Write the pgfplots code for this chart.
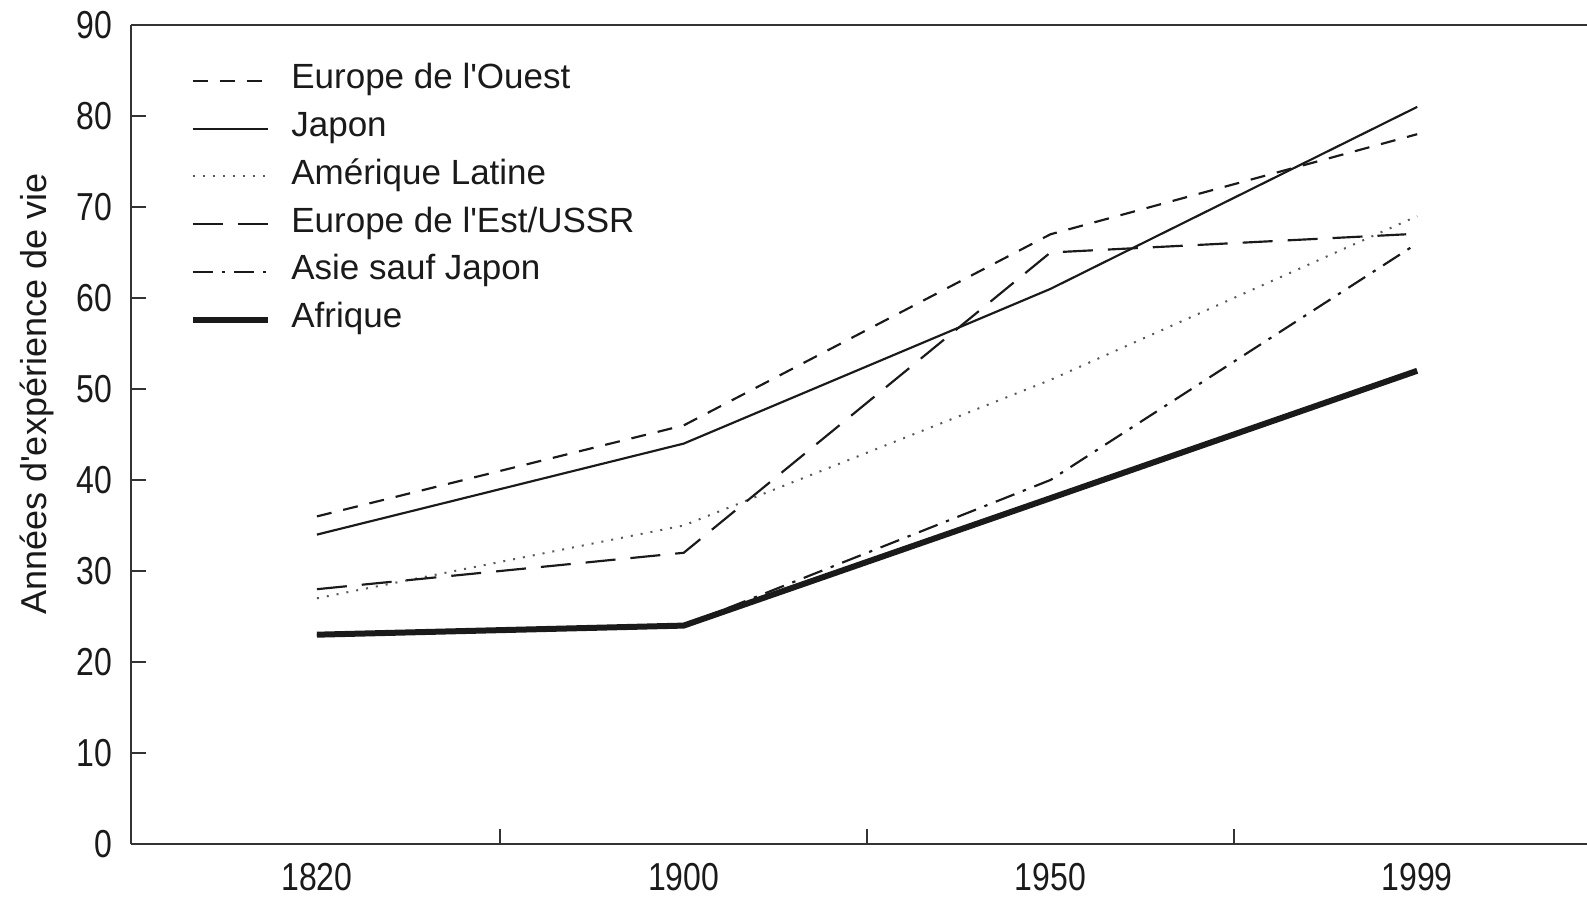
\documentclass[border=0pt]{standalone}
\usepackage{fontspec}
\setmainfont{Liberation Sans}
\newfontfamily\numfont{Liberation Sans}[FakeStretch=0.82]
\usepackage{pgfplots}
\pgfplotsset{compat=1.18}
\definecolor{ink}{HTML}{1A1A1A}
\definecolor{axisc}{HTML}{333333}
\begin{document}
\begin{tikzpicture}
\begin{axis}[
  scale only axis,
  width=436.8pt, height=245.7pt,
  xmin=-0.507, xmax=3.463,
  ymin=0, ymax=90,
  clip=false,
  axis x line*=bottom, axis y line*=left,
  axis line style={-, axisc, line width=0.65pt},
  tick align=inside,
  xtick={0,1,2,3},
  xticklabels={1820,1900,1950,1999},
  major x tick style={draw=none},
  minor xtick={0.5,1.5,2.5},
  minor x tick style={axisc, line width=0.6pt},
  minor tick length=4.5pt,
  ytick={0,10,...,90},
  major tick length=4.5pt,
  y tick style={axisc, line width=0.6pt},
  /pgf/number format/assume math mode=true,
  xticklabel style={font=\numfont\fontsize{11.7}{12}\selectfont, text=ink, anchor=north, inner sep=0pt, yshift=-5.7pt},
  yticklabel style={font=\numfont\fontsize{11.7}{12}\selectfont, text=ink, anchor=east, inner sep=0pt, xshift=-5.4pt},
  ylabel={Années d\textquotesingle expérience de vie},
  ylabel style={font=\fontsize{10.8}{12}\selectfont, text=ink, at={([xshift=-25.2pt]rel axis cs:0,0.549)}, anchor=base},
  legend cell align=left,
  legend image code/.code={\draw[#1] (0pt,0pt) -- (22.5pt,0pt);},
  legend style={draw=none, fill=none, at={(rel axis cs:0,1)}, anchor=north west,
    xshift=17.6pt, yshift=-11.1pt, inner sep=0pt, outer sep=0pt,
    row sep=3pt,
    nodes={inner sep=0pt, text height=8pt, text depth=3.34pt, text=ink, font=\fontsize{10.5}{12}\selectfont},
    /tikz/every odd column/.append style={column sep=6.2pt}},
]
\addplot[ink, line width=0.65pt, dash pattern=on 4.5pt off 3.6pt] coordinates {(0,36) (1,46) (2,67) (3,78)};
\addlegendentry{Europe de l\textquotesingle Ouest}
\addplot[ink, line width=0.65pt] coordinates {(0,34) (1,44) (2,61) (3,81)};
\addlegendentry{Japon}
\addplot[black!65, line width=0.6pt, dash pattern=on 0.6pt off 2.4pt] coordinates {(0,27) (1,35) (2,51) (3,69)};
\addlegendentry{Amérique Latine}
\addplot[ink, line width=0.65pt, dash pattern=on 9pt off 4.5pt] coordinates {(0,28) (1,32) (2,65) (2.97,67)};
\addlegendentry{Europe de l\textquotesingle Est/USSR}
\addplot[ink, line width=0.65pt, dash pattern=on 6pt off 2.7pt on 1pt off 2.7pt] coordinates {(0,23) (1,24) (2,40) (3,66)};
\addlegendentry{Asie sauf Japon}
\addplot[ink, line width=1.8pt] coordinates {(0,23) (1,24) (2,38) (3,52)};
\addlegendentry{Afrique}
\draw[axisc, line width=0.65pt] (rel axis cs:0,1) -- (rel axis cs:1,1);
\coordinate (bbsw) at (rel axis cs:0,0);
\coordinate (bbne) at (rel axis cs:1,1);
\end{axis}
\pgfresetboundingbox
\path ([xshift=-39.3pt,yshift=-16.2pt]bbsw) rectangle ([yshift=7.5pt]bbne);
\end{tikzpicture}
\end{document}
